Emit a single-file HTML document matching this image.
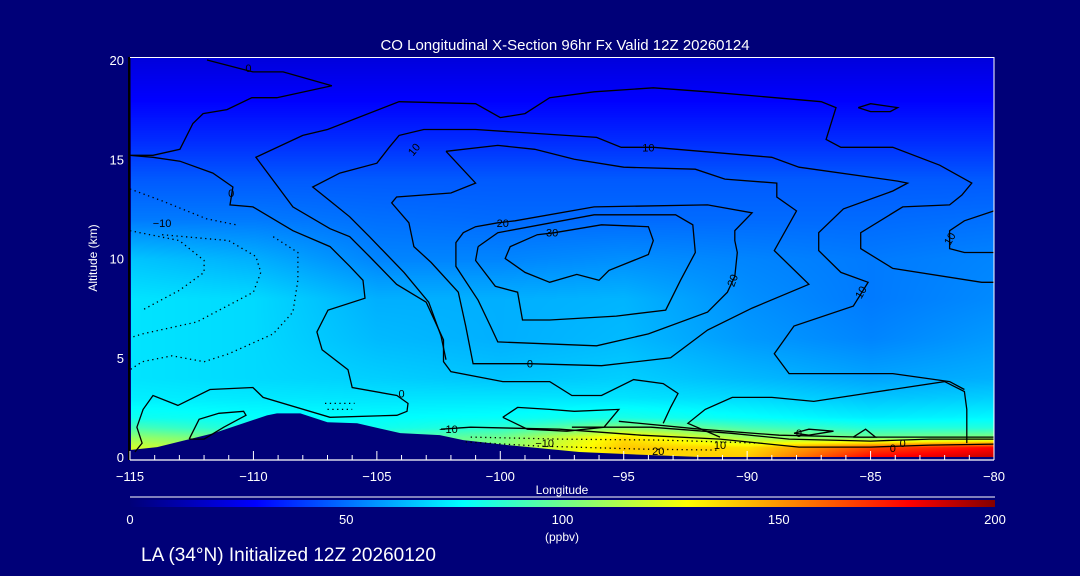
<!DOCTYPE html>
<html><head><meta charset="utf-8"><style>
html,body{margin:0;padding:0;background:#000078;}
#wrap{position:relative;width:1080px;height:576px;overflow:hidden;background:#000078;font-family:"Liberation Sans",sans-serif;}
canvas{position:absolute;left:131px;top:58px;}
svg{position:absolute;left:0;top:0;}
</style></head><body>
<div id="wrap">
<canvas id="field" width="863" height="400"></canvas>
<svg id="svg" width="1080" height="576">
<text x="565" y="50" fill="#fff" font-size="15" text-anchor="middle">CO Longitudinal X-Section 96hr  Fx Valid 12Z 20260124</text>
<text x="0" y="0" fill="#fff" font-size="12" text-anchor="middle" transform="translate(97,258) rotate(-90)">Altitude (km)</text>
<text x="562" y="494" fill="#fff" font-size="12" text-anchor="middle">Longitude</text>
<text x="562" y="541" fill="#fff" font-size="12" text-anchor="middle">(ppbv)</text>
<text x="141" y="561" fill="#fff" font-size="19">LA (34°N) Initialized 12Z 20260120</text>
<g id="terrain-g"></g><g id="contours"></g><g id="labels" font-size="11" fill="#000"></g><g id="axes"></g><g id="cbar"></g>
</svg>
</div>
<script>
const gridLons=[-115,-110,-105,-100,-95,-90,-85,-80];
const gridAlts=[0,0.5,1,1.5,2,3,4,6,8,10,12,14,16,18,20];
const gridVals=[
[125,108,105,110,135,140,180,190],
[120,108,100,105,140,135,165,180],
[108,98,92,100,135,110,100,105],
[92,82,80,86,105,92,84,84],
[80,78,77,78,82,78,74,76],
[74,73,72,72,72,70,66,68],
[72,70,68,66,68,64,60,62],
[72,70,64,62,64,58,54,58],
[72,70,62,62,63,56,52,55],
[66,62,54,54,56,54,52,54],
[52,52,50,49,49,49,49,50],
[46,46,46,46,46,46,46,46],
[37,37,37,37,37,37,37,37],
[29,29,29,29,29,29,29,29],
[22,22,22,22,22,22,22,22]];
const cmapVals=[0,29,77,104,129,147,180,200];
const cmapCols=[[0,0,120],[0,0,255],[0,255,255],[130,255,120],[255,255,0],[255,165,0],[255,0,0],[130,0,0]];
const cbarTicks=[0,50,100,150,200];
const xTicks=[-115,-110,-105,-100,-95,-90,-85,-80];
const yTicks=[0,5,10,15,20];
const terrainLon=[-115,-113.9,-111.6,-109.45,-109.05,-108.1,-107.0,-105.8,-104.05,-102.45,-101.5,-99.7,-96.8,-94.0,-91.9,-80];
const terrainAlt=[0.35,0.5,1.2,2.1,2.2,2.2,1.75,1.7,1.2,1.1,0.85,0.6,0.25,0.1,0,0];
const contourA=[[-80,8.8],[-80.5,8.8],[-84.1,9.5],[-85.4,10.5],[-85.4,11.3],[-83.7,12.6],[-81.8,12.7],[-81.3,13.2],[-80.9,13.8],[-82.2,14.7],[-84.1,15.6],[-86.2,15.6],[-86.8,16.0],[-86.4,17.6],[-87.0,17.9],[-91.6,18.4],[-93.8,18.6],[-96.2,18.4],[-98.0,18.1],[-99.0,17.3],[-100.0,17.1],[-101.0,17.8],[-104.1,17.9],[-107.0,16.5],[-108.0,16.2],[-109.9,15.1],[-109.0,13.6],[-108.4,12.6],[-106.9,11.5],[-106.1,11.1],[-105.3,10.1],[-104.2,8.7],[-103.0,7.8],[-102.3,5.9],[-102.3,4.8],[-102.0,4.3],[-99.9,3.8],[-98.0,3.8],[-97.1,3.1],[-95.9,3.1],[-94.6,3.9],[-93.4,3.7],[-92.8,3.2],[-93.1,2.5],[-93.4,1.7]];
const contourB=[[-81.2,3.4],[-81.8,3.8],[-84.1,4.2],[-88.3,4.2],[-88.9,5.2],[-88.1,6.6],[-85.7,7.6],[-85.1,8.8],[-86.2,9.3],[-87.1,10.4],[-87.1,11.3],[-86.1,12.5],[-84.1,13.4],[-83.5,13.8],[-83.9,13.9],[-87.9,14.6],[-89.0,15.1],[-93.8,15.6],[-95.1,15.6],[-96.1,16.1],[-101.0,16.5],[-103.1,16.5],[-104.1,16.2],[-104.5,15.6],[-105.0,14.8],[-106.5,14.3],[-107.6,13.6],[-106.9,12.9],[-106.1,12.1],[-105.3,11.1],[-103.9,9.3],[-102.9,7.8],[-102.4,6.1],[-102.2,4.9]];
const contourC=[[-102.2,15.4],[-100.1,15.7],[-98.6,15.5],[-97.0,15.0],[-95.0,14.6],[-92.1,14.5],[-90.9,14.0],[-88.8,13.8],[-88.8,13.1],[-88.0,12.4],[-88.9,10.4],[-87.5,8.7],[-89.8,7.5],[-91.6,6.4],[-93.1,5.0],[-95.9,4.6],[-98.8,4.7],[-101.1,4.7],[-101.4,6.6],[-101.7,8.3],[-102.8,9.8],[-103.5,10.6],[-103.7,11.8],[-104.4,12.8],[-104.2,13.1],[-102.0,13.3],[-101.0,13.8],[-102.2,15.4]];
const contourD=[[-100.1,11.8],[-99.4,11.9],[-96.2,12.6],[-91.6,12.7],[-89.8,12.3],[-90.5,11.4],[-90.5,10.9],[-90.4,10.3],[-90.5,9.1],[-90.8,8.3],[-91.6,7.3],[-94.0,6.2],[-96.1,5.6],[-100.1,5.8],[-100.4,6.6],[-100.9,7.9],[-101.8,9.6],[-101.8,10.8],[-101.5,11.3],[-101.0,11.6],[-100.1,11.8]];
const contourE=[[-100.9,10.6],[-100.1,11.3],[-96.2,12.2],[-92.9,12.2],[-92.2,11.7],[-92.1,10.3],[-92.7,8.9],[-93.3,7.4],[-95.3,7.1],[-98.0,6.9],[-99.1,6.9],[-99.3,8.3],[-100.2,8.6],[-101.0,9.9],[-100.9,10.6]];
const contourF=[[-97.8,11.3],[-95.9,11.7],[-94.0,11.6],[-93.8,10.9],[-94.0,10.2],[-95.6,9.4],[-96.0,8.9],[-96.9,9.2],[-98.0,8.8],[-99.0,9.3],[-99.8,10.0],[-99.6,10.6],[-98.5,11.2],[-97.8,11.3]];
const contourZero=[[-111.88,20],[-110.34,19.5],[-110.02,19.4],[-108.8,19.4],[-106.82,18.7],[-109.05,18.1],[-110.06,18.1],[-111.07,17.5],[-112.04,17.3],[-112.45,16.8],[-112.98,15.5],[-114.07,15.2],[-115,15.2],[-114.07,15.1],[-112.98,14.9],[-111.64,14.3],[-110.83,13.6],[-110.95,12.7],[-110.02,12.6],[-108.4,11.4],[-106.9,10.6],[-106.09,9.6],[-105.56,8.9],[-105.48,8.0],[-106.98,7.4],[-107.43,6.3],[-107.22,5.4],[-106.17,4.4],[-106.0,3.5],[-104.19,3.1],[-103.74,2.7],[-103.78,2.3],[-104.19,2.1],[-106.9,2.0],[-109.61,3.0],[-110.02,3.5],[-111.76,3.4],[-113.06,2.6],[-114.07,3.1],[-114.47,2.4],[-114.72,1.5],[-114.51,0.7],[-114.8,0.25]];
const contourG=[[-80,12.4],[-81.2,11.9],[-81.8,11.4],[-81.8,10.5],[-81.2,10.3],[-80,10.3]];
const contourH=[[-85.5,17.6],[-85.0,17.8],[-83.9,17.6],[-84.2,17.4],[-85.0,17.4],[-85.5,17.6]];
const contourI=[[-112.6,0.9],[-112.2,1.9],[-111.4,2.2],[-110.4,2.3],[-110.3,2.1],[-111.2,1.5],[-112.0,0.9],[-112.6,0.9]];
const contourJ=[[-99.9,2.0],[-99.3,2.5],[-98.0,2.4],[-97.0,2.3],[-95.2,2.4],[-95.8,1.5],[-97.3,1.3],[-98.9,1.4],[-99.9,2.0]];
const contourK=[[-91.1,1.0],[-92.4,1.7],[-91.7,2.4],[-90.6,3.0],[-89.0,3.0],[-87.3,2.8],[-85.2,3.2],[-82.0,3.8],[-81.2,3.3],[-81.1,2.4],[-81.1,0.7]];
const contourL=[[-88.1,1.2],[-87.5,1.4],[-86.5,1.3],[-87.5,1.1],[-88.1,1.2]];
const contourM=[[-85.7,1.0],[-85.2,1.4],[-84.8,1.0],[-85.7,1.0]];
const contourS1=[[-102.4,1.4],[-101.2,1.5],[-97.6,1.4],[-94.3,1.1],[-91.1,0.9],[-89.5,0.7],[-87.9,0.5],[-85.0,0.5],[-82.6,0.6],[-80,0.65]];
const contourS2=[[-97.1,1.5],[-93.9,1.5],[-90.7,1.2],[-88.3,0.9],[-85.0,0.8],[-82.6,0.9],[-80,0.9]];
const contourS3=[[-95.2,1.8],[-91.9,1.4],[-88.7,1.1],[-85.4,1.0],[-83.0,1.0],[-80,1.0]];
const dotted1=[[-115,13.5],[-113.7,12.9],[-111.9,12.0],[-110.7,11.7]];
const dotted2=[[-115,11.4],[-113.0,10.9],[-112.0,9.9],[-112.0,9.3],[-113.0,8.4],[-114.5,7.4]];
const dotted3=[[-113.7,11.2],[-111.0,10.9],[-109.9,10.1],[-109.7,9.3],[-110.0,8.3],[-112.3,6.8],[-114.5,6.2],[-115,6.0]];
const dotted4=[[-109.2,11.1],[-108.2,10.3],[-108.2,8.9],[-108.4,7.3],[-109.2,6.2],[-111.0,5.2],[-112.0,4.8],[-113.3,5.1],[-114.5,4.8],[-115,4.4]];
const dotted5=[[-107.1,2.7],[-105.9,2.7]];
const dotted6=[[-107.0,2.4],[-106.0,2.4]];
const dotted7=[[-101.2,1.0],[-97.6,0.9],[-93.5,0.85],[-89.5,0.7]];
const dotted8=[[-101.4,0.76],[-98.4,0.55],[-94.3,0.4],[-91.1,0.35]];
const labelText=["0","0","−10","20","30","10","20","10","10","0","0","−10","−10","20","0","10","0","0","10"];
const labelLon=[-110.2,-110.9,-113.7,-99.9,-97.9,-94.0,-90.6,-85.4,-103.5,-98.8,-104.0,-102.1,-98.2,-93.6,-87.9,-91.1,-83.7,-84.1,-81.8];
const labelAlt=[19.6,13.3,11.8,11.8,11.3,15.6,8.9,8.3,15.5,4.7,3.2,1.4,0.7,0.3,1.2,0.6,0.7,0.45,11.0];
const labelRot=[0,0,0,0,0,0,-70,-60,-50,0,0,0,0,0,0,0,0,0,-60];

const NS="http://www.w3.org/2000/svg";
const xS=lon=>130+(lon+115)*864/35;
const yS=alt=>457-alt*19.85;
const lonOf=px=>-115+(px-130)*35/864;
const altOf=py=>(457-py)/19.85;

function colorOf(v){
  if(v<=cmapVals[0])return cmapCols[0];
  for(let i=1;i<cmapVals.length;i++){
    if(v<=cmapVals[i]){const t=(v-cmapVals[i-1])/(cmapVals[i]-cmapVals[i-1]);const a=cmapCols[i-1],b=cmapCols[i];
      return [a[0]+(b[0]-a[0])*t,a[1]+(b[1]-a[1])*t,a[2]+(b[2]-a[2])*t];}
  }
  return cmapCols[cmapCols.length-1];
}
function idx(arr,v){let i=0;while(i<arr.length-2&&v>arr[i+1])i++;const t=Math.max(0,Math.min(1,(v-arr[i])/(arr[i+1]-arr[i])));return [i,t];}
function fieldVal(lon,alt){
  const [i,ti]=idx(gridLons,lon),[j,tj]=idx(gridAlts,alt);
  const a=gridVals[j][i],b=gridVals[j][i+1],c=gridVals[j+1][i],d=gridVals[j+1][i+1];
  return (a*(1-ti)+b*ti)*(1-tj)+(c*(1-ti)+d*ti)*tj;
}
const cv=document.getElementById('field'),ctx=cv.getContext('2d');
const img=ctx.createImageData(cv.width,cv.height);
for(let py=0;py<cv.height;py++){
  const alt=Math.max(0,Math.min(20,altOf(py+58)));
  for(let px=0;px<cv.width;px++){
    const lon=Math.max(-115,Math.min(-80,lonOf(px+131)));
    const c=colorOf(fieldVal(lon,alt));const k=(py*cv.width+px)*4;
    img.data[k]=c[0];img.data[k+1]=c[1];img.data[k+2]=c[2];img.data[k+3]=255;
  }
}
ctx.putImageData(img,0,0);

let tp=terrainLon.map((l,i)=>xS(l)+','+yS(terrainAlt[i])).join(' ');
tp+=' 994,459 130,459';
const terr=document.createElementNS(NS,'polygon');
terr.setAttribute('points',tp);terr.setAttribute('fill','#000078');


document.getElementById('terrain-g').appendChild(terr);

const cg=document.getElementById('contours');
function addLine(pts,name,dotted){
  const pl=document.createElementNS(NS,'polyline');
  pl.setAttribute('points',pts.map(p=>xS(p[0]).toFixed(1)+','+yS(p[1]).toFixed(1)).join(' '));
  pl.setAttribute('fill','none');pl.setAttribute('stroke','#000');
  pl.setAttribute('stroke-width','1.3');
  if(dotted)pl.setAttribute('stroke-dasharray','1.3,3.5');
  
  
  cg.appendChild(pl);
}
[[contourA,'contour-10-outer'],[contourB,'contour-10-upper'],[contourC,'contour-15'],[contourD,'contour-20'],[contourE,'contour-25'],[contourF,'contour-30'],[contourZero,'contour-0'],[contourG,'contour-0-right'],[contourH,'contour-small-loop'],[contourI,'contour-left-loop'],[contourJ,'contour-surface-lobe'],[contourK,'contour-right-lobe'],[contourL,'contour-20-low'],[contourM,'contour-triangle'],[contourS1,'contour-surface-1'],[contourS2,'contour-surface-2'],[contourS3,'contour-surface-3']].forEach(c=>addLine(c[0],c[1],false));
[dotted1,dotted2,dotted3,dotted4,dotted5,dotted6,dotted7,dotted8].forEach((d,i)=>addLine(d,'negative-contour-'+(i+1),true));

const lg=document.getElementById('labels');
labelText.forEach((t,i)=>{
  const el=document.createElementNS(NS,'text');
  const x=xS(labelLon[i]),y=yS(labelAlt[i]);
  el.setAttribute('x',x);el.setAttribute('y',y+4);el.setAttribute('text-anchor','middle');
  if(labelRot[i])el.setAttribute('transform','rotate('+labelRot[i]+' '+x+' '+y+')');
  el.textContent=t;
  
  
  lg.appendChild(el);
});

const ag=document.getElementById('axes');
function ln(x1,y1,x2,y2,col,w,name){
  const l=document.createElementNS(NS,'line');
  l.setAttribute('x1',x1);l.setAttribute('y1',y1);l.setAttribute('x2',x2);l.setAttribute('y2',y2);
  l.setAttribute('stroke',col);l.setAttribute('stroke-width',w);
  
  
  ag.appendChild(l);
}
function tx(x,y,s,size,anchor,name,parent){
  const t=document.createElementNS(NS,'text');
  t.setAttribute('x',x);t.setAttribute('y',y);t.setAttribute('fill','#fff');t.setAttribute('font-size',size);
  t.setAttribute('text-anchor',anchor);t.textContent=s;
  
  
  (parent||ag).appendChild(t);
}
ln(130,57.5,994,57.5,'#fff',1,'plot-top-border');
ln(994,57,994,460,'#fff',1,'plot-right-border');
ln(130,460,994,460,'#fff',1.3,'x-axis-line');
ln(129,57,129,460,'#000',2,'y-axis-line');
for(let l=-115;l<=-80;l++){
  const major=(l%5===0);
  ln(xS(l),460,xS(l),major?451:455,'#fff',1,major?'x-major-tick':'x-minor-tick');
}
xTicks.forEach(l=>tx(xS(l),481,String(l).replace('-','−'),13,'middle','x-tick-label'));
yTicks.forEach(a=>tx(124,yS(a)+5,String(a),13,'end','y-tick-label'));

const cb=document.getElementById('cbar');
const defs=document.createElementNS(NS,'defs');
const grad=document.createElementNS(NS,'linearGradient');
grad.setAttribute('id','cg');
cmapVals.forEach((v,i)=>{const s=document.createElementNS(NS,'stop');s.setAttribute('offset',(v/200*100)+'%');
  s.setAttribute('stop-color','rgb('+cmapCols[i].map(Math.round).join(',')+')');grad.appendChild(s);});
defs.appendChild(grad);cb.appendChild(defs);
const cbX=v=>130+v*865/200;
const rect=document.createElementNS(NS,'rect');
rect.setAttribute('x',130);rect.setAttribute('y',500);rect.setAttribute('width',865);rect.setAttribute('height',7);rect.setAttribute('fill','url(#cg)');


cb.appendChild(rect);
const cl=document.createElementNS(NS,'line');
cl.setAttribute('x1',130);cl.setAttribute('y1',497);cl.setAttribute('x2',995);cl.setAttribute('y2',497);cl.setAttribute('stroke','#fff');


cb.appendChild(cl);
cbarTicks.forEach(v=>tx(cbX(v),524,String(v),13,'middle','colorbar-tick-label',cb));
</script>
</body></html>
